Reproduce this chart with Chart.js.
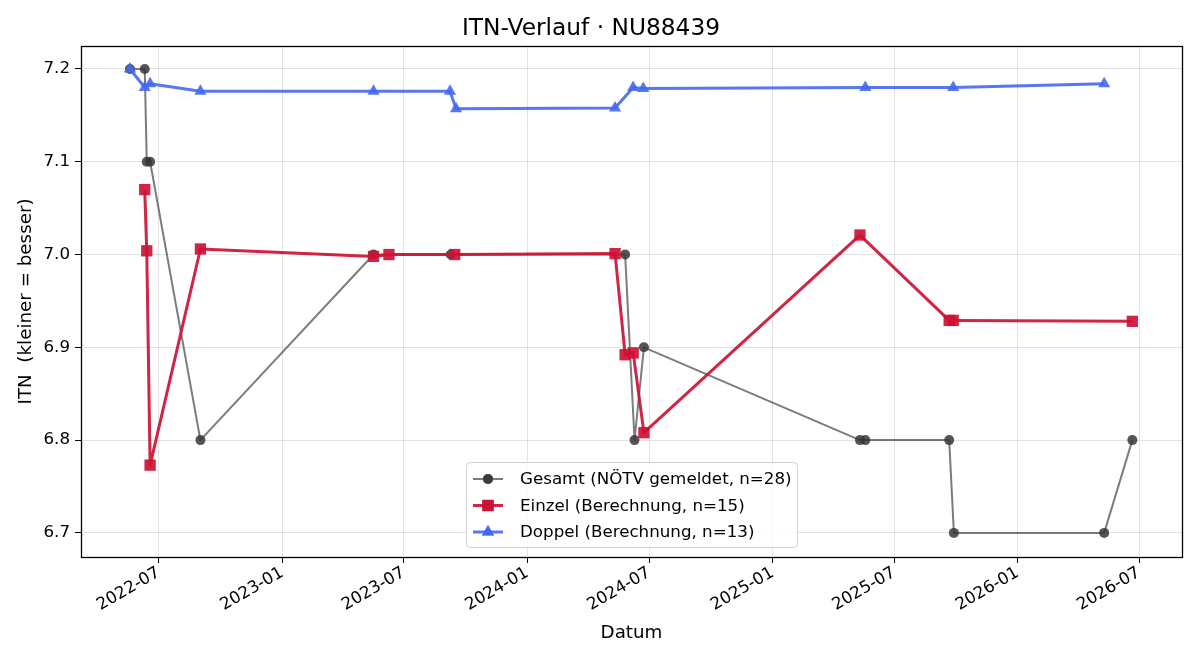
<!DOCTYPE html>
<html>
<head>
<meta charset="utf-8">
<script src="https://cdn.jsdelivr.net/npm/chart.js@4/dist/chart.umd.min.js"></script>
<style>
  body { margin: 0; background: #fff; }
  #wrap { width: 1200px; height: 660px; }
</style>
</head>
<body>
<div id="wrap"><canvas id="grafica" width="1200" height="660"></canvas></div>
<script>
// Daten
const gesamtDaten = ["2022-05-19", "2022-06-10", "2022-06-13", "2022-06-18", "2022-09-01", "2023-05-17", "2023-09-09", "2024-05-26", "2024-06-09", "2024-06-23", "2025-05-11", "2025-05-19", "2025-09-21", "2025-09-28", "2026-05-10", "2026-06-21"];
const gesamtWerte = [7.2, 7.2, 7.1, 7.1, 6.8, 7.0, 7.0, 7.0, 6.8, 6.9, 6.8, 6.8, 6.8, 6.7, 6.7, 6.8];

const einzelDaten = ["2022-06-10", "2022-06-13", "2022-06-18", "2022-09-01", "2023-05-17", "2023-06-09", "2023-09-15", "2024-05-11", "2024-05-26", "2024-06-07", "2024-06-23", "2025-05-11", "2025-09-21", "2025-09-27", "2026-06-21"];
const einzelWerte = [7.07, 7.004, 6.773, 7.006, 6.998, 7.0, 7.0, 7.001, 6.892, 6.894, 6.808, 7.021, 6.929, 6.929, 6.928];

const doppelDaten = ["2022-05-19", "2022-06-10", "2022-06-18", "2022-09-01", "2023-05-17", "2023-09-08", "2023-09-17", "2024-05-11", "2024-06-07", "2024-06-22", "2025-05-19", "2025-09-27", "2026-05-10"];
const doppelWerte = [7.2, 7.18, 7.184, 7.176, 7.176, 7.176, 7.157, 7.158, 7.18, 7.179, 7.18, 7.18, 7.184];

const xTickLabels = ["2022-07", "2023-01", "2023-07", "2024-01", "2024-07", "2025-01", "2025-07", "2026-01", "2026-07"];
const yTicks = [6.7, 6.8, 6.9, 7.0, 7.1, 7.2];
const xMin = "2022-03-07";
const xMax = "2026-09-03";
const yMin = 6.674;
const yMax = 7.2248;

const legendLabels = ["Gesamt (NÖTV gemeldet, n=28)", "Einzel (Berechnung, n=15)", "Doppel (Berechnung, n=13)"];

const schrift = "'DejaVu Sans', sans-serif";

function punkte(daten, werte) {
  return daten.map((d, i) => ({ x: Date.parse(d), y: werte[i] }));
}

const farben = {
  gesamtLinie: "rgba(68, 68, 68, 0.7)",
  gesamtPunkt: "rgba(55, 55, 55, 0.85)",
  einzel: "rgba(204, 18, 52, 0.92)",
  doppel: "rgba(70, 104, 240, 0.9)",
};

const datasets = [
  {
    label: legendLabels[0],
    data: punkte(gesamtDaten, gesamtWerte),
    borderColor: farben.gesamtLinie,
    backgroundColor: farben.gesamtPunkt,
    borderWidth: 2,
    pointStyle: "circle",
    pointRadius: 5,
    pointBorderWidth: 0,
    order: 3,
  },
  {
    label: legendLabels[1],
    data: punkte(einzelDaten, einzelWerte),
    borderColor: farben.einzel,
    backgroundColor: farben.einzel,
    borderWidth: 3,
    pointStyle: "rect",
    pointRadius: 8,
    pointBorderWidth: 0,
    order: 2,
  },
  {
    label: legendLabels[2],
    data: punkte(doppelDaten, doppelWerte),
    borderColor: farben.doppel,
    backgroundColor: farben.doppel,
    borderWidth: 3,
    pointStyle: "triangle",
    pointRadius: 7,
    pointBorderWidth: 0,
    order: 1,
  },
];

// Rahmen um die Achsen (wie matplotlib)
const rahmenPlugin = {
  id: "rahmen",
  afterDatasetsDraw(chart) {
    const { ctx, chartArea: a } = chart;
    ctx.save();
    ctx.strokeStyle = "#000";
    ctx.lineWidth = 1.3;
    ctx.strokeRect(Math.round(a.left) + 0.5, Math.round(a.top) + 0.5, Math.round(a.right - a.left), Math.round(a.bottom - a.top));
    ctx.restore();
  },
};

// Legende unten mittig im Diagramm
const legendePlugin = {
  id: "legende",
  afterDraw(chart) {
    const ctx = chart.ctx;
    const x0 = 466, y0 = 462, w = 331, h = 85;
    ctx.save();
    ctx.fillStyle = "rgba(255,255,255,0.85)";
    ctx.strokeStyle = "#d0d0d0";
    ctx.lineWidth = 1;
    ctx.beginPath();
    ctx.roundRect(x0 + 0.5, y0 + 0.5, w, h, 4);
    ctx.fill();
    ctx.stroke();

    ctx.font = "16.7px " + schrift;
    ctx.textBaseline = "middle";
    ctx.textAlign = "left";
    const zeilen = [479, 505.5, 532];
    chart.data.datasets.forEach((ds, i) => {
      const y = zeilen[i];
      ctx.strokeStyle = ds.borderColor;
      ctx.lineWidth = ds.borderWidth;
      ctx.beginPath();
      ctx.moveTo(473, y);
      ctx.lineTo(503, y);
      ctx.stroke();
      ctx.fillStyle = ds.backgroundColor;
      Chart.helpers.drawPoint(ctx, { pointStyle: ds.pointStyle, radius: ds.pointRadius, borderWidth: 0, rotation: 0 }, 488, y);
      ctx.fill();
      ctx.fillStyle = "#000";
      ctx.fillText(ds.label, 520, y + 1);
    });
    ctx.restore();
  },
};

new Chart(document.getElementById("grafica"), {
  type: "line",
  data: { datasets: datasets },
  options: {
    responsive: false,
    animation: false,
    devicePixelRatio: 1,
    layout: { padding: { left: 0, right: 18, top: 0, bottom: 0 } },
    elements: { line: { tension: 0, borderJoinStyle: "round" } },
    plugins: {
      legend: { display: false },
      tooltip: { enabled: false },
      title: {
        display: true,
        text: "ITN-Verlauf · NU88439",
        color: "#000",
        font: { family: schrift, size: 23.3, weight: "normal" },
        padding: { top: 15, bottom: 3 },
      },
    },
    scales: {
      x: {
        type: "linear",
        min: Date.parse(xMin),
        max: Date.parse(xMax),
        afterBuildTicks: (scale) => {
          scale.ticks = xTickLabels.map((t) => ({ value: Date.parse(t + "-01") }));
        },
        afterFit: (scale) => {
          scale.height = 103;
        },
        ticks: {
          callback: (value, index) => xTickLabels[index],
          color: "#000",
          font: { family: schrift, size: 16.7 },
          minRotation: 30,
          maxRotation: 30,
          padding: 0,
        },
        grid: {
          color: "rgba(176,176,176,0.35)",
          tickColor: "#000",
          tickLength: 6,
        },
        border: { display: false },
        title: {
          display: true,
          text: "Datum",
          color: "#000",
          font: { family: schrift, size: 18.3 },
          padding: { top: 0, bottom: 16 },
        },
      },
      y: {
        type: "linear",
        min: yMin,
        max: yMax,
        afterBuildTicks: (scale) => {
          scale.ticks = yTicks.map((v) => ({ value: v }));
        },
        afterFit: (scale) => {
          scale.width = 81;
        },
        ticks: {
          callback: (value) => value.toFixed(1),
          color: "#000",
          font: { family: schrift, size: 16.7 },
          padding: 5,
        },
        grid: {
          color: "rgba(176,176,176,0.35)",
          tickColor: "#000",
          tickLength: 6,
        },
        border: { display: false },
        title: {
          display: true,
          text: "ITN  (kleiner = besser)",
          color: "#000",
          font: { family: schrift, size: 18.3 },
          padding: { top: 15, bottom: 0 },
        },
      },
    },
  },
  plugins: [rahmenPlugin, legendePlugin],
});
</script>
</body>
</html>
